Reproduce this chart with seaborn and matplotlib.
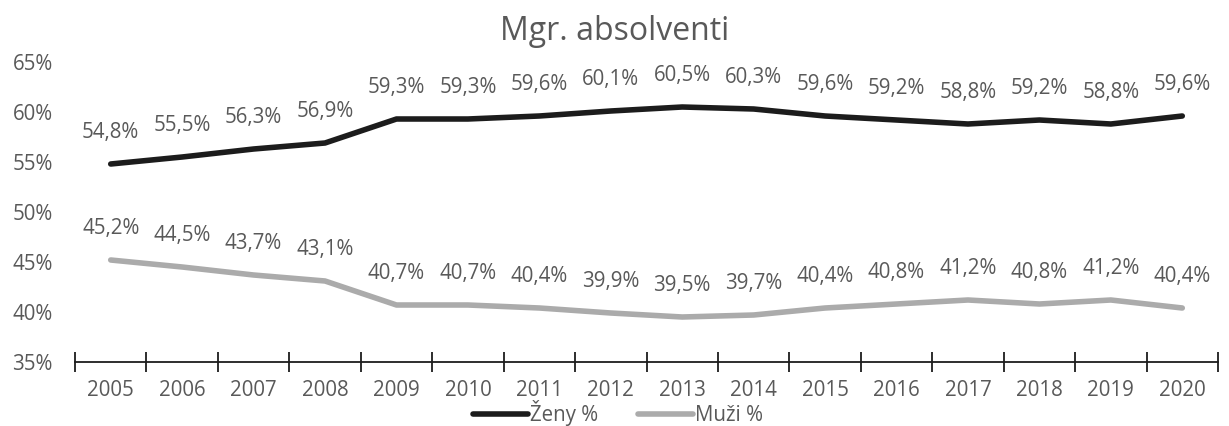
import matplotlib
matplotlib.use("Agg")
import matplotlib.pyplot as plt
import seaborn as sns
import pandas as pd
import numpy as np

years = ["2005", "2006", "2007", "2008", "2009", "2010", "2011", "2012",
         "2013", "2014", "2015", "2016", "2017", "2018", "2019", "2020"]
zeny = [54.8, 55.5, 56.3, 56.9, 59.3, 59.3, 59.6, 60.1, 60.5, 60.3, 59.6, 59.2, 58.8, 59.2, 58.8, 59.6]
muzi = [45.2, 44.5, 43.7, 43.1, 40.7, 40.7, 40.4, 39.9, 39.5, 39.7, 40.4, 40.8, 41.2, 40.8, 41.2, 40.4]
series_names = ["Ženy %", "Muži %"]
yticks = [35, 40, 45, 50, 55, 60, 65]
title = "Mgr. absolventi"

sns.set_theme(style="white")
plt.rcParams["font.family"] = ["Open Sans", "DejaVu Sans"]
TXT = "#595959"
FS = 14.8

df = pd.DataFrame({
    "x": list(range(len(years))) * 2,
    "value": zeny + muzi,
    "series": [series_names[0]] * len(years) + [series_names[1]] * len(years),
})

fig = plt.figure(figsize=(12.29, 4.26), dpi=100)
ax = fig.add_axes([75 / 1229, 64 / 426, (1218 - 75) / 1229, 300 / 426])

palette = {series_names[0]: "#1c1c1c", series_names[1]: "#ababab"}
sns.lineplot(data=df, x="x", y="value", hue="series", palette=palette,
             linewidth=4.0, ax=ax, legend=True, solid_capstyle="round")

for vals in (zeny, muzi):
    for i, v in enumerate(vals):
        ax.annotate(f"{v:.1f}%".replace(".", ","), (i, v), xytext=(0, 23),
                    textcoords="offset points", ha="center", va="center",
                    fontsize=FS, color=TXT)

ax.set_xlim(-0.5, len(years) - 0.5)
ax.set_ylim(35, 65)
ax.set_yticks(yticks)
ax.set_yticklabels([f"{t}%" for t in yticks], color=TXT, fontsize=FS)
ax.set_xticks(range(len(years)))
ax.set_xticklabels(years, color=TXT, fontsize=FS)
ax.set_xticks(np.arange(-0.5, len(years)), minor=True)
ax.tick_params(axis="x", which="major", length=0, pad=13, bottom=False)
ax.tick_params(axis="x", which="minor", bottom=True, length=15, width=1.3,
               direction="inout", color="#1c1c1c")
ax.tick_params(axis="y", length=0, pad=16)
for s in ["top", "right", "left"]:
    ax.spines[s].set_visible(False)
ax.spines["bottom"].set_color("#1c1c1c")
ax.spines["bottom"].set_linewidth(1.3)
ax.set_xlabel("")
ax.set_ylabel("")

fig.suptitle(title, x=0.5, y=1 - 31 / 426, va="center", fontsize=23, color=TXT)

handles, labels = ax.get_legend_handles_labels()
ax.get_legend().remove()
leg = fig.legend(handles, labels, loc="center", bbox_to_anchor=(618 / 1229, 1 - 413 / 426),
                 ncol=2, frameon=False, fontsize=FS, handlelength=2.7, handletextpad=0.1,
                 columnspacing=1.9, borderaxespad=0, borderpad=0)
for t in leg.get_texts():
    t.set_color(TXT)
for l in leg.get_lines():
    l.set_linewidth(4.0)

fig.savefig("out.png", dpi=100)
